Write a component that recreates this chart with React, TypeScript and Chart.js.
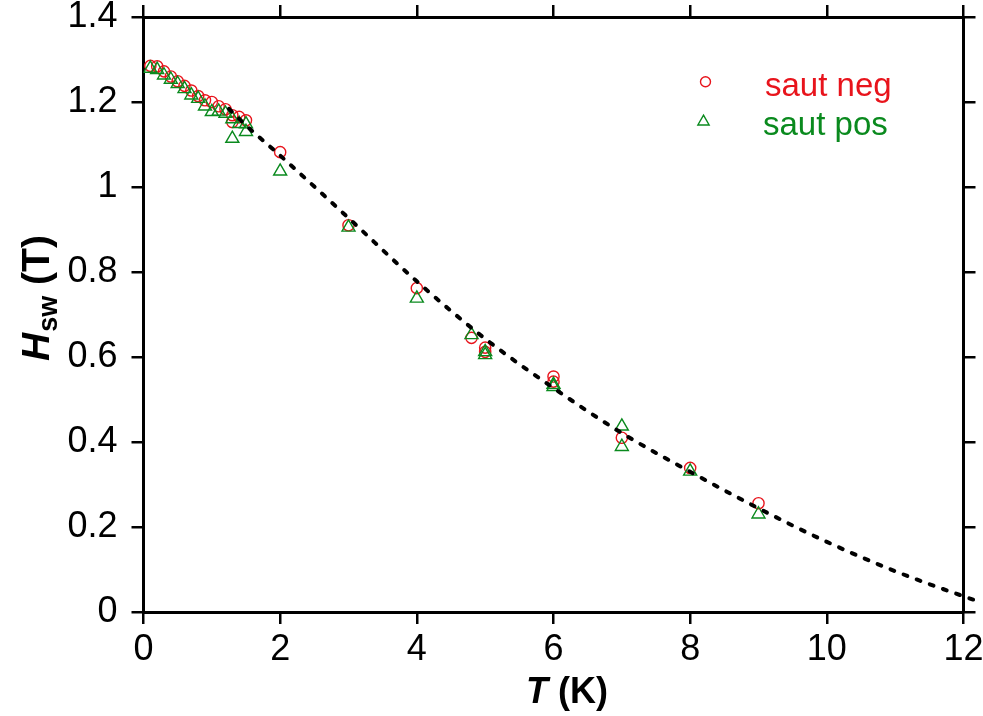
import React, { useEffect, useRef } from "react";
import { Chart, registerables } from "chart.js";

Chart.register(...registerables);

// ---- data ----
const negT = [0.1, 0.2, 0.3, 0.4, 0.5, 0.6, 0.7, 0.8, 0.9, 1.0, 1.1, 1.2, 1.3, 1.3, 1.4, 1.5, 2, 3, 4, 4.8, 5, 5, 6, 6, 7, 8, 9];
const negH = [1.285, 1.284, 1.272, 1.26, 1.249, 1.238, 1.227, 1.214, 1.204, 1.2, 1.19, 1.183, 1.169, 1.153, 1.165, 1.157, 1.082, 0.91, 0.762, 0.645, 0.622, 0.612, 0.554, 0.542, 0.41, 0.339, 0.256];

const posT = [0.1, 0.2, 0.3, 0.4, 0.5, 0.6, 0.7, 0.8, 0.9, 1.0, 1.1, 1.2, 1.3, 1.3, 1.4, 1.5, 1.5, 2, 3, 4, 4.8, 5, 5, 6, 6, 7, 7, 8, 9];
const posH = [1.279, 1.276, 1.263, 1.253, 1.243, 1.231, 1.216, 1.208, 1.19, 1.177, 1.178, 1.173, 1.114, 1.16, 1.149, 1.13, 1.148, 1.037, 0.905, 0.738, 0.652, 0.612, 0.605, 0.535, 0.53, 0.437, 0.389, 0.331, 0.23];

const fitT = [1.25, 1.5, 2, 3, 4, 5, 6, 7, 8, 9, 10, 11, 12, 12.22];
const fitH = [1.184, 1.145, 1.074, 0.927, 0.778, 0.643, 0.527, 0.421, 0.33, 0.244, 0.165, 0.096, 0.037, 0.025];

const xTickValues = [0, 2, 4, 6, 8, 10, 12];
const xTickLabels = ["0", "2", "4", "6", "8", "10", "12"];
const yTickValues = [0, 0.2, 0.4, 0.6, 0.8, 1.0, 1.2, 1.4];
const yTickLabels = ["0", "0.2", "0.4", "0.6", "0.8", "1", "1.2", "1.4"];

const legendLabels = ["saut neg", "saut pos"];
const xTitleMain = "T";
const xTitleRest = " (K)";
const yTitleMain = "H";
const yTitleSub = "sw";
const yTitleRest = " (T)";

// ---- style ----
const RED = "#e8141c";
const GREEN = "#0a8a1e";
const FONT = "'Liberation Sans', Arial, Helvetica, sans-serif";
const W = 983;
const H = 716;

function lookup(vals: number[], labels: string[], v: number) {
  const i = vals.findIndex((t) => Math.abs(t - v) < 1e-6);
  return i >= 0 ? labels[i] : "";
}

const overlayPlugin = {
  id: "overlay",
  afterDraw(chart: any) {
    const c = chart.ctx as CanvasRenderingContext2D;
    c.save();
    c.fillStyle = "#000";
    c.textBaseline = "alphabetic";
    c.textAlign = "left";
    // x title
    c.font = `bold italic 36px ${FONT}`;
    const wT = c.measureText(xTitleMain).width;
    const xStart = 526;
    c.fillText(xTitleMain, xStart, 703);
    c.font = `bold 36px ${FONT}`;
    c.fillText(xTitleRest, xStart + wT, 703);

    // y title (rotated)
    c.save();
    c.translate(49, 298);
    c.rotate(-Math.PI / 2);
    c.font = `bold italic 39px ${FONT}`;
    const w1 = c.measureText(yTitleMain).width;
    c.font = `bold 27px ${FONT}`;
    const w2 = c.measureText(yTitleSub).width;
    c.font = `bold 39px ${FONT}`;
    const w3 = c.measureText(yTitleRest).width;
    let x0 = -(w1 + w2 + w3 + 1) / 2;
    c.font = `bold italic 39px ${FONT}`;
    c.fillText(yTitleMain, x0, 0);
    x0 += w1 + 1;
    c.font = `bold 27px ${FONT}`;
    c.fillText(yTitleSub, x0, 8);
    x0 += w2;
    c.font = `bold 39px ${FONT}`;
    c.fillText(yTitleRest, x0, 0);
    c.restore();

    // legend
    c.lineWidth = 1.4;
    c.strokeStyle = RED;
    c.beginPath();
    c.arc(705.5, 81.7, 5, 0, Math.PI * 2);
    c.stroke();
    c.strokeStyle = GREEN;
    const tx = 703.5, ty = 121.7, r = 6.5;
    c.beginPath();
    for (let k = 0; k < 3; k++) {
      const a = (k * 2 * Math.PI) / 3;
      const px = tx + Math.sin(a) * r;
      const py = ty - Math.cos(a) * r;
      if (k === 0) c.moveTo(px, py);
      else c.lineTo(px, py);
    }
    c.closePath();
    c.stroke();
    c.font = `33px ${FONT}`;
    c.fillStyle = RED;
    c.fillText(legendLabels[0], 765, 96);
    c.fillStyle = GREEN;
    c.fillText(legendLabels[1], 763, 135);
    c.restore();
  },
};

export default function App() {
  const ref = useRef<HTMLCanvasElement | null>(null);
  useEffect(() => {
    document.body.style.margin = "0";
    const canvas = ref.current!;
    const gridCommon = {
      display: true,
      drawOnChartArea: false,
      drawTicks: true,
      tickLength: 12,
      tickWidth: 2.5,
      tickColor: "#000",
      lineWidth: 2.5,
      color: "#000",
    };
    const border = { display: true, width: 3, color: "#000" };
    // a trailing null point marks the series as unsorted so the part past x=12 is kept
    const fitData: any[] = fitT.map((t, i) => ({ x: t, y: fitH[i] }));
    fitData.push({ x: null, y: null });
    const chart = new Chart(canvas, {
      type: "scatter",
      data: {
        datasets: [
          {
            label: "fit",
            data: fitData,
            showLine: true,
            borderColor: "#000",
            borderWidth: 4,
            borderDash: [4, 10],
            borderCapStyle: "round",
            pointRadius: 0,
            cubicInterpolationMode: "monotone",
            clip: 30,
            order: 0,
          } as any,
          {
            label: legendLabels[0],
            data: negT.map((t, i) => ({ x: t, y: negH[i] })),
            pointStyle: "circle",
            pointRadius: 5.6,
            borderWidth: 1.4,
            borderColor: RED,
            backgroundColor: "rgba(0,0,0,0)",
            order: 2,
          },
          {
            label: legendLabels[1],
            data: posT.map((t, i) => ({ x: t, y: posH[i] })),
            pointStyle: "triangle",
            pointRadius: 7.5,
            borderWidth: 1.4,
            borderColor: GREEN,
            backgroundColor: "rgba(0,0,0,0)",
            order: 1,
          },
        ],
      },
      options: {
        animation: false,
        responsive: false,
        devicePixelRatio: 1,
        layout: { padding: 0 },
        plugins: { legend: { display: false }, tooltip: { enabled: false } },
        scales: {
          x: {
            type: "linear",
            position: "bottom",
            min: 0,
            max: 12,
            afterBuildTicks: (s: any) => {
              s.ticks = xTickValues.map((v) => ({ value: v }));
            },
            ticks: {
              color: "#000",
              font: { size: 36, family: FONT },
              padding: 4,
              maxRotation: 0,
              callback: (v: any) => lookup(xTickValues, xTickLabels, Number(v)),
            },
            grid: gridCommon,
            border,
            afterFit: (s: any) => {
              s.height = H - 612;
              s.paddingLeft = 0;
              s.paddingRight = 0;
            },
          },
          x2: {
            type: "linear",
            position: "top",
            min: 0,
            max: 12,
            afterBuildTicks: (s: any) => {
              s.ticks = xTickValues.map((v) => ({ value: v }));
            },
            ticks: { display: false },
            grid: gridCommon,
            border,
            afterFit: (s: any) => {
              s.height = 17;
              s.paddingLeft = 0;
              s.paddingRight = 0;
            },
          },
          y: {
            type: "linear",
            position: "left",
            min: 0,
            max: 1.4,
            afterBuildTicks: (s: any) => {
              s.ticks = yTickValues.map((v) => ({ value: v }));
            },
            ticks: {
              color: "#000",
              font: { size: 36, family: FONT },
              padding: 14,
              callback: (v: any) => lookup(yTickValues, yTickLabels, Number(v)),
            },
            grid: gridCommon,
            border,
            afterFit: (s: any) => {
              s.width = 143.5;
              s.paddingTop = 0;
              s.paddingBottom = 0;
            },
          },
          y2: {
            type: "linear",
            position: "right",
            min: 0,
            max: 1.4,
            afterBuildTicks: (s: any) => {
              s.ticks = yTickValues.map((v) => ({ value: v }));
            },
            ticks: { display: false },
            grid: gridCommon,
            border,
            afterFit: (s: any) => {
              s.width = W - 963.5;
              s.paddingTop = 0;
              s.paddingBottom = 0;
            },
          },
        },
      } as any,
      plugins: [overlayPlugin],
    });
    return () => chart.destroy();
  }, []);
  return (
    <div style={{ position: "absolute", left: 0, top: 0, width: W, height: H, background: "#fff" }}>
      <canvas ref={ref} width={W} height={H} style={{ width: W, height: H, display: "block" }} />
    </div>
  );
}
